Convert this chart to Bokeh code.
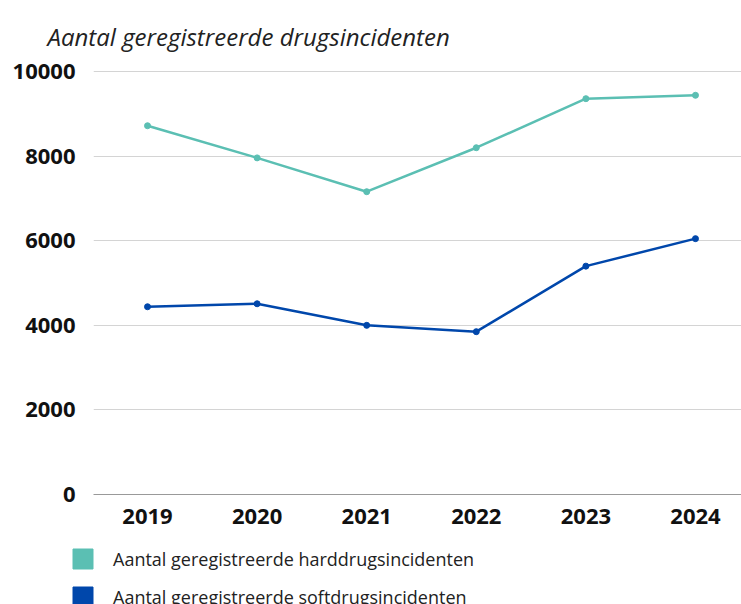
from bokeh.plotting import figure
from bokeh.layouts import column
from bokeh.models import Range1d, FixedTicker, Legend, LegendItem, ColumnDataSource
from bokeh.embed import file_html
from bokeh.resources import INLINE

years = [2019, 2020, 2021, 2022, 2023, 2024]
harddrugs = [8720, 7960, 7160, 8200, 9360, 9440]
softdrugs = [4440, 4510, 4000, 3850, 5400, 6050]
y_ticks = [0, 2000, 4000, 6000, 8000, 10000]
title_text = "Aantal geregistreerde drugsincidenten"
label_hard = "Aantal geregistreerde harddrugsincidenten"
label_soft = "Aantal geregistreerde softdrugsincidenten"

TEAL = "#5BBFB3"
BLUE = "#0047AB"

p = figure(width=741, height=535, output_backend="svg", toolbar_location=None,
           x_range=Range1d(2018.507, 2024.42), y_range=Range1d(0, 10050),
           min_border_left=93, min_border_right=0, min_border_top=69, min_border_bottom=41)
p.outline_line_color = None
p.background_fill_color = "white"

p.title.text = title_text
p.title.text_font = "Open Sans"
p.title.text_font_style = "italic"
p.title.text_font_size = "24px"
p.title.text_color = "#222222"
p.title.align = "left"
p.title.vertical_align = "top"
p.title.offset = -46
p.title.standoff = 30

src_h = ColumnDataSource(dict(x=years, y=harddrugs))
src_s = ColumnDataSource(dict(x=years, y=softdrugs))
p.line("x", "y", source=src_h, line_color=TEAL, line_width=2.5)
p.scatter("x", "y", source=src_h, size=6, color=TEAL)
p.line("x", "y", source=src_s, line_color=BLUE, line_width=2.5)
p.scatter("x", "y", source=src_s, size=6, color=BLUE)

p.xaxis.ticker = FixedTicker(ticks=years)
p.yaxis.ticker = FixedTicker(ticks=y_ticks)
for ax in (p.xaxis, p.yaxis):
    ax.major_tick_line_color = None
    ax.minor_tick_line_color = None
    ax.major_label_text_font = "Open Sans"
    ax.major_label_text_font_style = "bold"
    ax.major_label_text_font_size = "22px"
    ax.major_label_text_color = "#111111"
p.xaxis.axis_line_color = "#999999"
p.yaxis.axis_line_color = None
p.xaxis.major_label_standoff = 8
p.yaxis.major_label_standoff = 12

p.xgrid.grid_line_color = None
p.ygrid.grid_line_color = "#d4d4d4"
p.ygrid.grid_line_width = 1

# legend figure below the chart (its view range hides the proxy bars)
lg = figure(width=741, height=69, output_backend="svg", toolbar_location=None,
            x_axis_type=None, y_axis_type=None,
            x_range=Range1d(0, 1), y_range=Range1d(0, 1),
            min_border_left=0, min_border_right=0, min_border_top=0, min_border_bottom=0)
lg.grid.visible = False
lg.outline_line_color = None
for fig in (p, lg):
    if "frame_align" in fig.properties():
        fig.frame_align = False
rh = lg.vbar(x=years, top=harddrugs, width=0.5, fill_color=TEAL, line_color=TEAL)
rs = lg.vbar(x=years, top=softdrugs, width=0.5, fill_color=BLUE, line_color=BLUE)
legend = Legend(items=[LegendItem(label=label_hard, renderers=[rh]),
                       LegendItem(label=label_soft, renderers=[rs])],
                location=(70, -5), orientation="vertical",
                glyph_width=25, glyph_height=25, spacing=13, label_standoff=18,
                label_text_font="Open Sans", label_text_font_size="18px",
                label_text_color="#222222", padding=0, margin=0,
                border_line_color=None, background_fill_alpha=0)
lg.add_layout(legend, "center")

open("out.html", "w").write(file_html(column(p, lg, spacing=0), INLINE))
